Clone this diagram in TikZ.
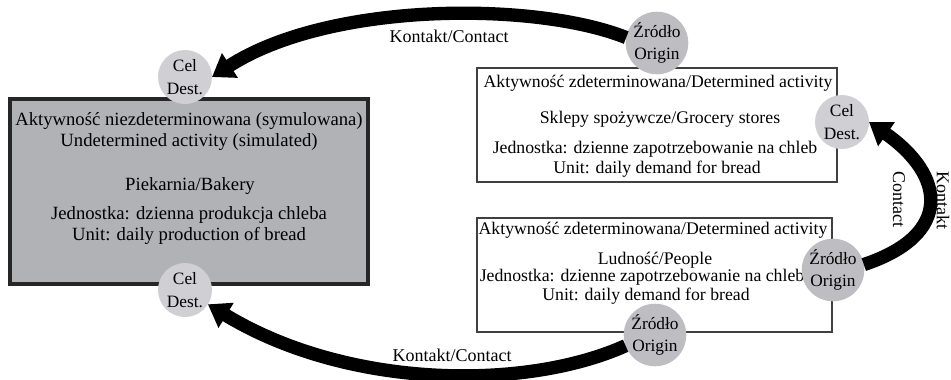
\documentclass[tikz,border=0pt]{standalone}
\usepackage{fontspec}
\setmainfont{Liberation Serif}
\usetikzlibrary{arrows.meta}

\definecolor{bakerygray}{RGB}{177,178,182}
\definecolor{celgray}{RGB}{208,208,212}
\definecolor{origingray}{RGB}{190,190,194}
\definecolor{framegray}{RGB}{64,64,64}

\tikzset{
  activity/.style={draw=framegray, line width=1.1pt, fill=white, inner sep=0pt, outer sep=0pt},
  simbox/.style={draw=black!85, line width=2.6pt, fill=bakerygray, inner sep=0pt, outer sep=0pt},
  celnode/.style={circle, fill=celgray, minimum size=40.5pt, inner sep=0pt, outer sep=0pt, align=center, font=\fontsize{13}{17}\selectfont},
  originnode/.style={celnode, fill=origingray},
  contact/.style={line width=10pt, -{Triangle[length=16pt,width=21pt]}},
  bigtxt/.style={anchor=base, inner sep=0pt, font=\fontsize{14}{16}\selectfont},
  smalltxt/.style={anchor=base, inner sep=0pt, font=\fontsize{13.3}{16}\selectfont},
  lbl/.style={inner sep=0pt, font=\fontsize{13.5}{16}\selectfont}
}

\begin{document}
\begin{tikzpicture}[x=0.75pt,y=0.75pt,yscale=-1,xscale=1]
\useasboundingbox (0,0) rectangle (951,379);

%Shape: Rectangle [bakery]
\node[simbox, minimum width=268.5pt, minimum height=138.75pt] (bakery) at (189,191.5) {};
%Shape: Rectangle [shops]
\node[activity, minimum width=270pt, minimum height=85.5pt] (shops) at (657,125) {};
%Shape: Rectangle [people]
\node[activity, minimum width=266.25pt, minimum height=85.5pt] (people) at (654.5,275) {};

% Text Node
\node[bigtxt] (bk1) at (189,125) {Aktywność niezdeterminowana (symulowana)};
% Text Node
\node[bigtxt] (bk2) at (189,146) {Undetermined activity (simulated)};
% Text Node
\node[bigtxt] (bk3) at (190,190) {Piekarnia/Bakery};
% Text Node
\node[bigtxt] (bk4) at (189,219) {Jednostka: dzienna produkcja chleba};
% Text Node
\node[bigtxt] (bk5) at (189,240) {Unit: daily production of bread};

% Text Node
\node[smalltxt] (sh1) at (658,87) {Aktywność zdeterminowana/Determined activity};
% Text Node
\node[smalltxt] (sh2) at (660,123) {Sklepy spożywcze/Grocery stores};
% Text Node
\node[smalltxt] (sh3) at (655,153) {Jednostka: dzienne zapotrzebowanie na chleb};
% Text Node
\node[smalltxt] (sh4) at (657,173) {Unit: daily demand for bread};

% Text Node
\node[smalltxt] (pp1) at (653,234) {Aktywność zdeterminowana/Determined activity};
% Text Node
\node[smalltxt] (pp2) at (655,264) {Ludność/People};
% Text Node
\node[smalltxt] (pp3) at (642,281) {Jednostka: dzienne zapotrzebowanie na chleb};
% Text Node
\node[smalltxt] (pp4) at (646,300) {Unit: daily demand for bread};

%Shape: Circle [cel / origin]
\node[celnode] (dest1) at (185,77) {Cel\\Dest.};
\node[celnode] (dest2) at (185,290) {Cel\\Dest.};
\node[celnode] (dest3) at (842,122) {Cel\\Dest.};
\node[originnode] (orig1) at (657,43) {Źródło\\Origin};
\node[originnode] (orig3) at (833,270) {Źródło\\Origin};
\node[originnode] (orig2) at (655,335) {Źródło\\Origin};

%Curve Lines [contact]
\draw[contact] (orig1.170) .. controls +(-90,-36) and +(118,-76) .. (dest1.east);
\draw[contact] (orig2.200) .. controls +(-100,45) and +(140,85) .. (dest2.-32);
\draw[contact] (orig3.10) .. controls +(90,-30) and +(76,53) .. (dest3.east);

% Text Node
\node[lbl, anchor=base] (k1) at (449,42) {Kontakt/Contact};
% Text Node
\node[lbl, anchor=base] (k2) at (452,361) {Kontakt/Contact};
% Text Node
\node[lbl, rotate=-90] (k3) at (899,199) {Contact};
% Text Node
\node[lbl, rotate=-90] (k4) at (943,200) {Kontakt};

\end{tikzpicture}
\end{document}
